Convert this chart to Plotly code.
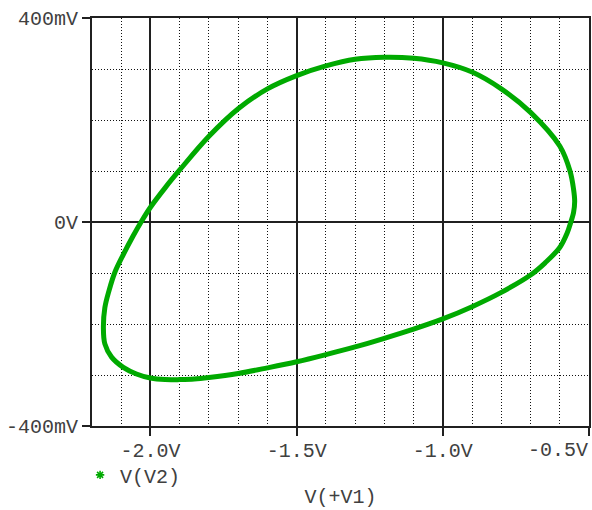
import plotly.graph_objects as go

# V(+V1) in volts and V(V2) in millivolts, traced once around the loop
v1 = [-2.161, -2.156, -2.142, -2.122, -2.093, -2.060, -2.030, -2.000, -1.950,
      -1.900, -1.800, -1.700, -1.600, -1.500, -1.400, -1.300, -1.200, -1.100,
      -1.000, -0.900, -0.800, -0.700, -0.600, -0.565, -0.553, -0.549, -0.553,
      -0.562, -0.575, -0.600, -0.650, -0.700, -0.800, -0.900, -1.000, -1.100,
      -1.200, -1.300, -1.400, -1.500, -1.600, -1.700, -1.800, -1.850, -1.900,
      -1.950, -2.000, -2.048, -2.093, -2.133, -2.156, -2.161]
v2 = [-207, -168, -135, -99, -64, -28, 2, 29, 67,
      102, 168, 222, 261, 287, 306, 319, 323, 321,
      312, 294, 261, 215, 149, 100, 65, 40, 18,
      0, -22, -50, -80, -104, -138, -166, -190, -210,
      -228, -245, -260, -274, -286, -297, -305, -308, -309,
      -309, -306, -298, -285, -265, -239, -207]

x_ticks = [-2.0, -1.5, -1.0, -0.5]
x_labels = ["-2.0V", "-1.5V", "-1.0V", "-0.5V"]
y_ticks = [-400, 0, 400]
y_labels = ["-400mV", "0V", "400mV"]

green = "#00AA00"
ink = "#404040"
font = dict(family="Liberation Mono, Courier New, monospace", size=20, color=ink)

fig = go.Figure()
fig.add_trace(go.Scatter(
    x=v1, y=v2, mode="lines",
    line=dict(color=green, width=5, shape="spline", smoothing=1),
    showlegend=False, hoverinfo="skip",
))
fig.add_trace(go.Scatter(
    x=[None], y=[None], mode="markers", name="V(V2)",
    marker=dict(symbol="asterisk-open", size=7, color=green,
                line=dict(color=green, width=1.6)),
))

axis_common = dict(
    showline=True, mirror=True, linecolor="#202020", linewidth=2,
    ticks="outside", ticklen=8, tickwidth=2, tickcolor="#202020",
    showgrid=True, gridcolor="#202020", gridwidth=2,
    zeroline=False, tickfont=font, automargin=False,
)

# the last x label sits at the right border, so it is right-aligned to it
edge_label = x_labels[-1]
tick_text = x_labels[:-1] + [""]

fig.update_xaxes(
    range=[-2.2, -0.5], tickmode="array", tickvals=x_ticks, ticktext=tick_text,
    ticklabelstandoff=-3,
    minor=dict(dtick=0.1, tick0=-2.0, showgrid=True, gridcolor="#111111",
               gridwidth=1, griddash="1px,2px", ticks=""),
    title=dict(text="V(+V1)", font=font, standoff=27),
    **axis_common,
)
fig.update_yaxes(
    range=[-400, 400], tickmode="array", tickvals=y_ticks, ticktext=y_labels,
    minor=dict(dtick=100, tick0=0, showgrid=True, gridcolor="#111111",
               gridwidth=1, griddash="1px,2px", ticks=""),
    **axis_common,
)

fig.add_annotation(
    x=x_ticks[-1], xref="x", y=-0.06, yref="paper",
    text=edge_label, showarrow=False, xanchor="right", yanchor="middle",
    font=font, borderpad=0,
)

fig.update_layout(
    width=592, height=510,
    margin=dict(l=92, r=3, t=18, b=84, autoexpand=False),
    paper_bgcolor="white", plot_bgcolor="white",
    font=font,
    showlegend=True,
    legend=dict(x=-0.024, y=-0.072, xanchor="left", yanchor="top",
                bgcolor="rgba(0,0,0,0)", borderwidth=0, font=font,
                itemwidth=30),
)

fig.write_html("out.html")
